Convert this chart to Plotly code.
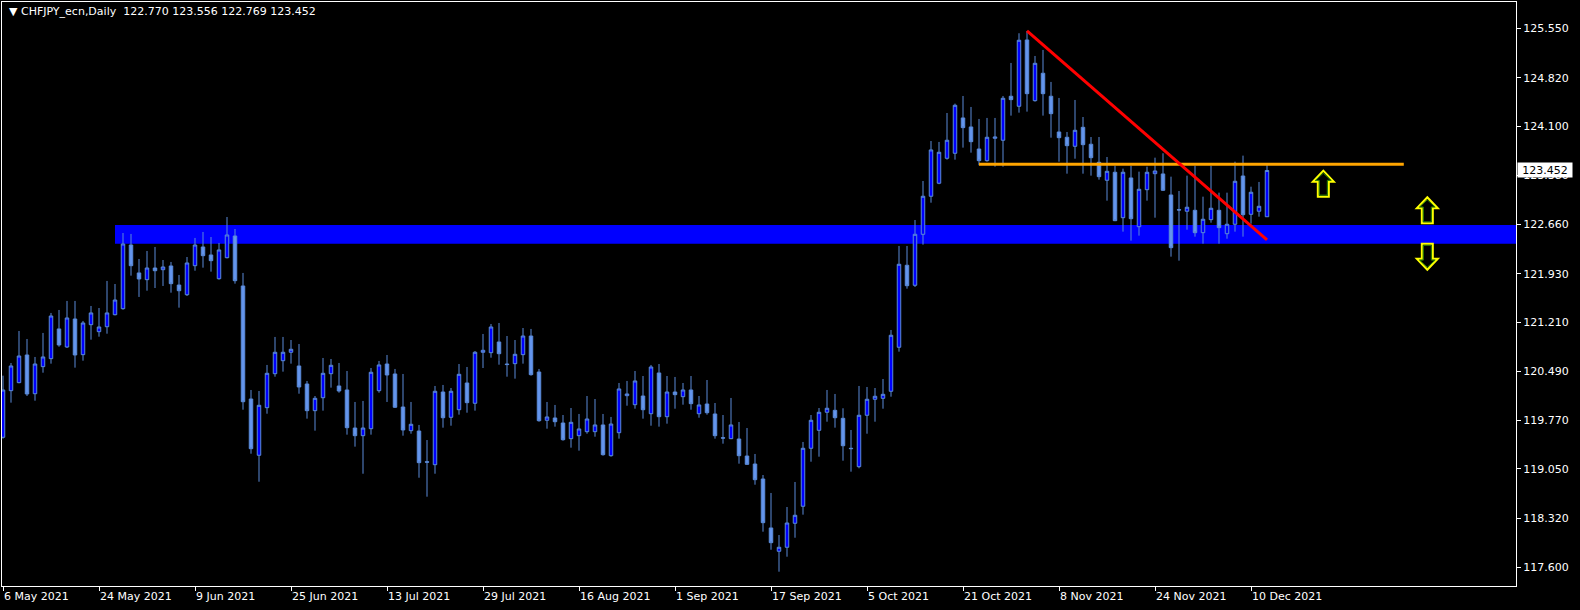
import pandas as pd
import plotly.graph_objects as go

# ---------------- data ----------------
dates = pd.bdate_range("2021-05-06", "2021-12-14")

opens = [119.517, 120.205, 120.323, 120.731, 120.160, 120.559, 120.677, 121.115, 120.849, 121.262,
         120.736, 121.178, 121.075, 121.148, 121.325, 121.414, 122.353, 121.941, 121.842, 122.014,
         121.989, 122.044, 121.763, 121.620, 122.048, 122.324, 122.206, 121.856, 122.166, 122.486,
         121.749, 120.082, 119.252, 119.954, 120.455, 120.647, 120.771, 120.569, 120.303, 119.910,
         120.101, 120.455, 120.274, 120.215, 119.654, 119.541, 119.644, 120.205, 120.598, 120.451,
         119.964, 119.615, 119.610, 119.157, 119.113, 120.185, 119.812, 119.924, 120.318, 120.019,
         120.771, 120.765, 120.923, 120.598, 120.603, 120.736, 121.011, 120.480, 119.768, 119.802,
         119.728, 119.497, 119.541, 119.600, 119.600, 119.699, 119.246, 119.585, 120.131, 119.998,
         120.126, 119.865, 120.466, 119.821, 120.185, 120.116, 120.215, 119.865, 120.008, 119.861,
         119.511, 119.497, 119.492, 119.241, 119.123, 118.902, 118.180, 117.836, 117.895, 118.249,
         118.500, 119.355, 119.620, 119.886, 119.915, 119.797, 119.355, 119.084, 119.842, 120.078,
         120.092, 120.196, 120.845, 122.054, 121.759, 122.511, 123.072, 123.264, 123.632, 123.706,
         124.227, 124.094, 123.769, 123.597, 123.927, 123.898, 124.547, 124.399, 125.377, 124.482,
         124.886, 124.547, 124.020, 123.942, 123.809, 124.089, 123.839, 123.573, 123.308, 123.426,
         122.756, 123.342, 122.623, 123.169, 123.405, 123.401, 123.091, 122.874, 122.851, 122.865,
         122.535, 122.727, 122.865, 122.520, 122.659, 123.371, 122.806, 122.851, 122.770]

highs = [120.426, 120.613, 121.085, 120.967, 120.702, 121.056, 121.351, 121.395, 121.528, 121.528,
         121.233, 121.454, 121.424, 121.823, 121.778, 122.530, 122.516, 122.147, 122.265, 122.324,
         122.132, 122.103, 121.911, 122.176, 122.457, 122.545, 122.471, 122.383, 122.766, 122.589,
         121.941, 120.215, 120.200, 120.584, 120.997, 120.997, 120.952, 120.893, 120.348, 120.126,
         120.687, 120.672, 120.613, 120.495, 120.038, 120.053, 120.539, 120.643, 120.731, 120.525,
         120.451, 120.038, 119.699, 119.477, 120.274, 120.289, 120.244, 120.598, 120.554, 120.790,
         121.041, 121.188, 121.203, 121.011, 120.952, 121.129, 121.115, 120.525, 120.038, 119.994,
         119.846, 119.949, 119.861, 120.126, 120.082, 119.861, 119.817, 120.318, 120.348, 120.495,
         120.421, 120.584, 120.598, 120.421, 120.407, 120.318, 120.421, 120.126, 120.362, 120.023,
         119.846, 120.097, 119.743, 119.654, 119.271, 118.961, 118.696, 118.076, 118.489, 118.858,
         119.448, 119.846, 119.949, 120.215, 120.156, 119.945, 119.625, 120.274, 120.259, 120.244,
         120.377, 121.100, 122.339, 122.339, 122.722, 123.297, 123.887, 123.873, 124.300, 124.438,
         124.551, 124.389, 124.212, 124.227, 124.227, 124.551, 125.038, 125.476, 125.510, 125.141,
         125.230, 124.758, 124.522, 124.020, 124.492, 124.241, 123.946, 123.946, 123.651, 123.523,
         123.479, 123.523, 123.435, 123.508, 123.641, 123.706, 123.361, 123.150, 123.376, 123.523,
         123.066, 123.523, 123.125, 123.125, 123.582, 123.671, 123.213, 123.283, 123.556]

lows = [119.497, 120.028, 120.314, 120.126, 120.057, 120.470, 120.603, 120.853, 120.834, 120.544,
        120.647, 120.957, 121.001, 121.045, 121.315, 121.399, 121.901, 121.587, 121.679, 121.719,
        121.749, 121.650, 121.429, 121.601, 121.974, 122.019, 121.960, 121.842, 122.156, 121.783,
        119.924, 119.275, 118.862, 119.865, 120.411, 120.485, 120.603, 120.160, 119.792, 119.615,
        119.910, 120.249, 120.175, 119.556, 119.379, 118.980, 119.556, 120.175, 120.038, 119.949,
        119.541, 119.570, 118.921, 118.641, 118.980, 119.659, 119.688, 119.851, 119.880, 119.910,
        120.539, 120.691, 120.588, 120.411, 120.382, 120.603, 120.426, 119.747, 119.644, 119.674,
        119.467, 119.364, 119.320, 119.570, 119.526, 119.246, 119.231, 119.497, 119.983, 119.939,
        119.792, 119.688, 119.674, 119.718, 119.939, 119.998, 119.924, 119.806, 119.851, 119.497,
        119.423, 119.490, 119.128, 119.113, 118.818, 118.125, 117.859, 117.535, 117.756, 118.036,
        118.376, 119.157, 119.231, 119.747, 119.659, 119.172, 119.010, 119.060, 119.570, 119.747,
        119.939, 120.116, 120.780, 121.709, 121.734, 122.358, 122.977, 123.250, 123.612, 123.612,
        123.789, 123.715, 123.529, 123.582, 123.508, 123.508, 124.261, 124.305, 124.320, 124.467,
        124.261, 123.936, 123.582, 123.405, 123.626, 123.405, 123.376, 123.317, 123.007, 122.705,
        122.550, 122.417, 122.491, 123.007, 122.756, 123.150, 122.181, 122.122, 122.579, 122.476,
        122.373, 122.682, 122.373, 122.446, 122.550, 122.476, 122.668, 122.771, 122.769]

closes = [120.215, 120.569, 120.716, 120.156, 120.598, 120.702, 121.306, 120.879, 121.277, 120.731,
          121.203, 121.351, 121.144, 121.351, 121.542, 122.368, 122.048, 121.852, 122.014, 121.974,
          122.029, 121.783, 121.679, 122.088, 122.353, 122.196, 122.122, 122.280, 122.501, 121.827,
          120.042, 119.349, 119.989, 120.461, 120.771, 120.771, 120.815, 120.259, 119.910, 120.092,
          120.461, 120.579, 120.200, 119.659, 119.541, 119.654, 120.476, 120.584, 120.436, 119.960,
          119.625, 119.709, 119.143, 119.150, 120.196, 119.806, 120.196, 120.446, 120.028, 120.771,
          120.800, 121.144, 120.750, 120.590, 120.741, 121.011, 120.441, 119.762, 119.817, 119.747,
          119.482, 119.738, 119.640, 119.787, 119.699, 119.261, 119.713, 120.230, 120.156, 120.348,
          119.924, 120.554, 119.821, 120.185, 120.146, 120.215, 120.013, 119.994, 119.880, 119.541,
          119.505, 119.699, 119.246, 119.118, 118.892, 118.258, 117.963, 117.895, 118.253, 118.367,
          119.355, 119.768, 119.886, 119.945, 119.806, 119.393, 119.350, 119.842, 120.078, 120.122,
          120.151, 121.022, 122.069, 121.753, 122.511, 123.072, 123.755, 123.721, 123.898, 124.414,
          124.084, 123.877, 123.597, 123.942, 123.946, 124.517, 124.497, 125.373, 124.585, 125.033,
          124.585, 124.290, 123.936, 123.818, 124.045, 123.833, 123.641, 123.361, 123.440, 122.712,
          123.426, 122.741, 123.175, 123.426, 123.445, 123.160, 122.314, 122.870, 122.910, 122.535,
          122.733, 122.895, 122.609, 122.659, 123.293, 122.800, 123.131, 122.924, 123.452]

price_ticks = [117.600, 118.320, 119.050, 119.770, 120.490, 121.210,
               121.930, 122.660, 123.380, 124.100, 124.820, 125.550]

symbol = "CHFJPY_ecn,Daily"
last_price = 123.452

# annotation objects (chart drawings)
zone_low, zone_high, zone_start_bar = 122.373, 122.649, 14
resistance_level, resistance_from, resistance_to = 123.544, 122, 175.1
trend_from, trend_to = (128, 125.510), (158, 122.427)
arrows = [("up", 165.04, 123.258), ("up", 178.04, 122.865), ("down", 178.04, 122.179)]

# ---------------- figure ----------------
x_idx = list(range(len(dates)))
tick_idx = list(range(0, len(dates), 12))
tick_text = [f"{dates[i].day} {dates[i].strftime('%b %Y')}" for i in tick_idx]

WICK = "#5A8AD8"
fig = go.Figure(go.Candlestick(
    x=x_idx, open=opens, high=highs, low=lows, close=closes,
    increasing=dict(fillcolor="#0000FF", line=dict(color=WICK, width=1)),
    decreasing=dict(fillcolor="#6495ED", line=dict(color=WICK, width=1)),
    whiskerwidth=0, hoverinfo="skip", showlegend=False,
))

FONT = "DejaVu Sans"
fig.update_layout(
    width=1580, height=610,
    margin=dict(l=2, r=64, t=2, b=24),
    paper_bgcolor="black", plot_bgcolor="black",
    boxgap=0.38,
    font=dict(family=FONT, size=11, color="white"),
    showlegend=False,
)
fig.update_xaxes(
    range=[-0.125, 189.125], showgrid=False, zeroline=False,
    tickvals=tick_idx, ticktext=tick_text, ticks="outside", ticklen=4,
    tickcolor="white", ticklabelposition="outside right",
    showline=True, linecolor="white", linewidth=1, mirror=True,
    rangeslider=dict(visible=False), tickfont=dict(family=FONT, size=11, color="white"),
)
fig.update_yaxes(
    range=[117.324, 125.937], side="right", showgrid=False, zeroline=False,
    tickvals=price_ticks, ticktext=[f"{v:.3f}" for v in price_ticks],
    ticks="outside", ticklen=4, tickcolor="white",
    showline=True, linecolor="white", linewidth=1, mirror=True,
    tickfont=dict(family=FONT, size=11, color="white"),
)

# support zone (behind candles)
fig.add_shape(type="rect", xref="x", yref="y", x0=zone_start_bar, x1=189.125,
              y0=zone_low, y1=zone_high, fillcolor="#0000FF", line_width=0, layer="below")
# resistance line
fig.add_shape(type="line", xref="x", yref="y", x0=resistance_from, x1=resistance_to,
              y0=resistance_level, y1=resistance_level, line=dict(color="#FFA500", width=3))
# trend line
fig.add_shape(type="line", xref="x", yref="y", x0=trend_from[0], y0=trend_from[1],
              x1=trend_to[0], y1=trend_to[1], line=dict(color="#FF0000", width=3))

# block arrows
def arrow_path(points, sign):
    return "M" + " L".join(f"{px},{sign * py}" for px, py in points) + " Z"

outer = [(0, 13), (10.5, 2), (5.5, 2), (5.5, -13), (-5.5, -13), (-5.5, 2), (-10.5, 2)]
inner = [(0, 10.5), (7.8, 3.3), (4, 3.3), (4, -11.5), (-4, -11.5), (-4, 3.3), (-7.8, 3.3)]
for direction, ax_, ay_ in arrows:
    s = 1 if direction == "up" else -1
    fig.add_shape(type="path", xref="x", yref="y", xsizemode="pixel", ysizemode="pixel",
                  xanchor=ax_, yanchor=ay_, path=arrow_path(outer, s),
                  line=dict(color="#FFFF00", width=2), fillcolor="black")
    fig.add_shape(type="path", xref="x", yref="y", xsizemode="pixel", ysizemode="pixel",
                  xanchor=ax_, yanchor=ay_, path=arrow_path(inner, s),
                  line=dict(color="#2E8B00", width=1))

# header text
header = ("\u25BC " + symbol + "\u00a0\u00a0" +
          " ".join(f"{v:.3f}" for v in (opens[-1], highs[-1], lows[-1], closes[-1])))
fig.add_annotation(text=header, xref="paper", yref="paper", x=0.0033, y=0.983,
                   xanchor="left", yanchor="middle", showarrow=False,
                   font=dict(family=FONT, size=11, color="white"))
# last price label
fig.add_annotation(text=f"{last_price:.3f}", xref="paper", yref="y", x=1, xshift=1,
                   y=last_price, xanchor="left", yanchor="middle", showarrow=False,
                   bgcolor="white", width=54, height=14, borderpad=0,
                   font=dict(family=FONT, size=11, color="black"))

fig.write_html("out.html", config={"displayModeBar": False},
               post_script="document.body.style.margin='0';document.body.style.background='black';")
